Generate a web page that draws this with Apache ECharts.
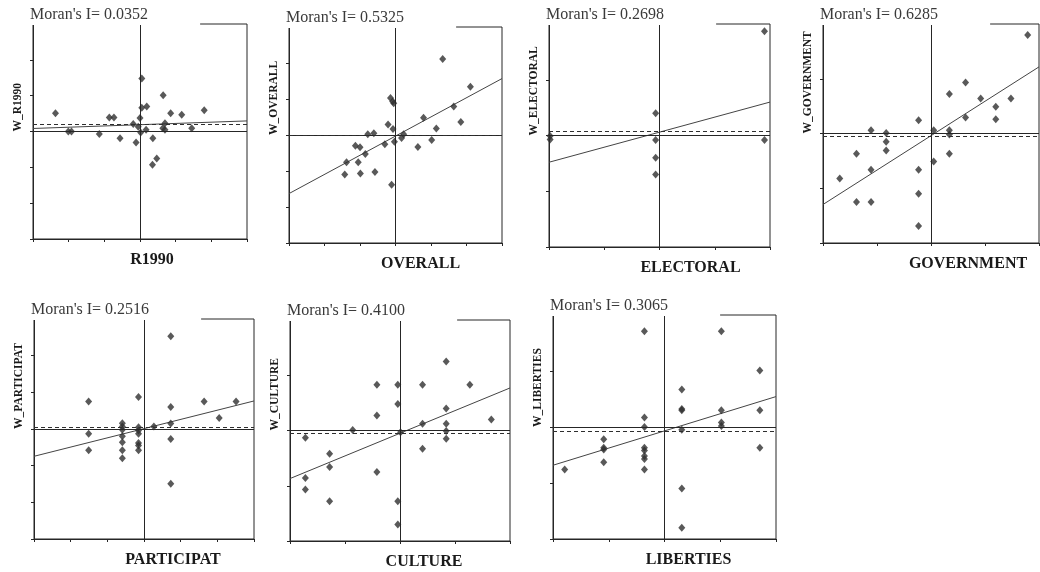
<!DOCTYPE html>
<html>
<head>
<meta charset="utf-8">
<script src="https://cdn.jsdelivr.net/npm/echarts@6/dist/echarts.min.js"></script>
<style>
  html, body { margin: 0; padding: 0; background: #ffffff; }
  #chart { width: 1040px; height: 572px; }
</style>
</head>
<body>
<div id="chart"></div>
<script>
// ---------- data (standardized values) ----------
const variables = ['R1990', 'OVERALL', 'ELECTORAL', 'GOVERNMENT', 'PARTICIPAT', 'CULTURE', 'LIBERTIES'];
const moranI = [0.0352, 0.5325, 0.2698, 0.6285, 0.2516, 0.4100, 0.3065];
const axisExtent = [3, 3, 2, 2, 3, 2, 2];
const fitIntercept = [0.19, -0.03, 0.06, -0.04, 0.01, -0.05, -0.07];
const dashedLevel = [0.2, -0.02, 0.08, -0.05, 0.045, -0.05, -0.08];

const r1990X = [-2.37, -2.01, -1.92, -1.14, -0.86, -0.73, -0.56, -0.19, -0.11, -0.05, 0, 0.02, 0.05, 0.05, 0.19, 0.17, 0.36, 0.47, 0.35, 0.65, 0.64, 0.70, 0.70, 0.86, 1.17, 1.45, 1.80];
const r1990Y = [0.51, 0, 0, -0.07, 0.39, 0.39, -0.19, 0.21, -0.31, 0.13, 0.38, -0.03, 1.48, 0.66, 0.70, 0.05, -0.19, -0.75, -0.93, 1.01, 0.09, 0.23, 0.05, 0.51, 0.47, 0.09, 0.59];

const overallX = [1.33, 2.11, 1.64, 1.84, 0.79, 1.15, 1.02, 0.63, 0.23, 0.17, -0.14, -0.08, -0.05, -0.21, -0.07, -0.03, -0.30, -0.61, -0.78, -1.13, -1.00, -0.85, -1.38, -1.05, -1.43, -0.99, -0.58, -0.11];
const overallY = [2.11, 1.34, 0.79, 0.36, 0.48, 0.18, -0.14, -0.33, 0.02, -0.08, 1.03, 0.93, 0.88, 0.29, 0.17, -0.19, -0.26, 0.05, 0.02, -0.30, -0.34, -0.53, -0.76, -0.76, -1.10, -1.07, -1.03, -1.38];

const electoralX = [-1.98, -1.98, -0.07, -0.07, -0.07, -0.07, 1.90, 1.90];
const electoralY = [-0.01, -0.07, 0.40, -0.08, -0.40, -0.70, 1.87, -0.08];

const governmentX = [1.79, 0.64, 0.34, 0.92, 1.48, 1.20, 0.64, 1.20, 0.34, 0.34, 0.05, 0.34, 0.05, -0.23, -0.23, -0.23, -0.23, -0.83, -0.83, -0.83, -1.11, -1.11, -1.11, -1.38, -1.38, -1.69];
const governmentY = [1.80, 0.93, 0.72, 0.64, 0.64, 0.49, 0.29, 0.26, 0.06, -0.02, 0.06, -0.37, -0.51, 0.24, -0.66, -1.10, -1.69, 0.01, -0.15, -0.31, 0.06, -0.66, -1.25, -0.37, -1.25, -0.82];

const participatX = [0.73, -1.51, -0.15, 0.73, 1.64, 2.51, 2.05, 0.73, 0.27, 0.73, 0.73, -1.51, -1.51, -0.59, -0.59, -0.59, -0.59, -0.59, -0.59, -0.59, -0.15, -0.15, -0.15, -0.15, -0.15, -0.15];
const participatY = [2.53, 0.75, 0.87, 0.60, 0.75, 0.75, 0.30, 0.15, 0.07, -0.27, -1.49, -0.13, -0.58, 0.16, 0.07, -0.02, -0.20, -0.36, -0.58, -0.80, 0.05, -0.04, -0.13, -0.38, -0.45, -0.58];

const cultureX = [0.84, -0.42, -0.04, 0.41, 1.27, -0.04, -0.42, 0.84, 0.41, 0.84, 1.66, 0.84, 0.84, 0.41, 0.01, -0.86, -1.72, -1.28, -1.28, -1.72, -1.72, -1.28, -0.42, -0.04, -0.04];
const cultureY = [1.25, 0.83, 0.83, 0.83, 0.83, 0.48, 0.27, 0.40, 0.12, 0.12, 0.20, -0.01, -0.15, -0.33, -0.03, 0.01, -0.13, -0.42, -0.66, -0.86, -1.07, -1.28, -0.75, -1.28, -1.70];

const libertiesX = [-0.36, 1.02, 1.71, 0.31, 0.31, 0.31, 1.02, 1.71, 1.02, 1.02, -0.36, -0.36, 0.31, 1.71, 0.31, 0.31, -1.09, -1.09, -1.09, -1.09, -1.79, -0.36, -0.36, -0.36, -0.36, -0.36];
const libertiesY = [1.71, 1.71, 1.01, 0.67, 0.32, 0.30, 0.30, 0.30, 0.08, 0.02, 0.17, 0, -0.05, -0.37, -1.10, -1.80, -0.22, -0.37, -0.40, -0.63, -0.76, -0.37, -0.42, -0.52, -0.57, -0.76];

const pointsX = [r1990X, overallX, electoralX, governmentX, participatX, cultureX, libertiesX];
const pointsY = [r1990Y, overallY, electoralY, governmentY, participatY, cultureY, libertiesY];

// ---------- layout (pixels) ----------
const layout = [
  { left: 33,  top: 24,  width: 214, height: 215, nameShift: 24 },
  { left: 289, top: 27,  width: 213, height: 216, nameShift: 50 },
  { left: 549, top: 24,  width: 221, height: 223, nameShift: 62 },
  { left: 823, top: 24,  width: 216, height: 219, nameShift: 74 },
  { left: 34,  top: 319, width: 220, height: 220, nameShift: 58 },
  { left: 290, top: 320, width: 220, height: 221, nameShift: 48 },
  { left: 553, top: 315, width: 223, height: 224, nameShift: 48 }
];

const INK = '#262626';
const SERIF = '"Liberation Serif", "Times New Roman", serif';

const grids = [], xAxes = [], yAxes = [], titles = [], series = [];

variables.forEach((name, i) => {
  const L = layout[i];
  const r = axisExtent[i];
  grids.push({
    left: L.left, top: L.top, width: L.width, height: L.height,
    show: true, borderColor: INK, borderWidth: 1, backgroundColor: 'transparent',
    containLabel: false, outerBoundsMode: 'none'
  });
  titles.push({
    text: "Moran's I= " + moranI[i].toFixed(4),
    left: L.left - 3, top: L.top - 17,
    padding: [0, 52, 2, 0],
    backgroundColor: '#ffffff',
    textStyle: { fontFamily: SERIF, fontSize: 16, fontWeight: 'normal', color: '#3a3a3a' }
  });
  xAxes.push({
    gridIndex: i, type: 'value', min: -r, max: r, interval: 1,
    axisLine: { show: true, onZero: false, lineStyle: { color: INK, width: 1 } },
    axisTick: { show: true, inside: false, length: 3, lineStyle: { color: INK } },
    axisLabel: { show: false }, splitLine: { show: false },
    name: name, nameLocation: 'middle', nameGap: 13,
    nameTextStyle: { fontFamily: SERIF, fontWeight: 'bold', fontSize: 16, color: '#1a1a1a',
      align: 'center', verticalAlign: 'top', padding: [0, 0, 0, L.nameShift] }
  });
  yAxes.push({
    gridIndex: i, type: 'value', min: -r, max: r, interval: 1,
    axisLine: { show: true, onZero: false, lineStyle: { color: INK, width: 1 } },
    axisTick: { show: true, inside: false, length: 3, lineStyle: { color: INK } },
    axisLabel: { show: false }, splitLine: { show: false },
    name: 'W_' + name, nameLocation: 'middle', nameGap: 15, nameRotate: 90,
    nameTextStyle: { fontFamily: SERIF, fontWeight: 'bold', fontSize: 11.5, color: '#1a1a1a',
      align: 'left', verticalAlign: 'middle' }
  });
  const pts = pointsX[i].map((x, k) => [x, pointsY[i][k]]);
  const a = fitIntercept[i], b = moranI[i];
  series.push({
    type: 'line', xAxisIndex: i, yAxisIndex: i,
    data: [[-r, a - b * r], [r, a + b * r]],
    symbol: 'none', silent: true, z: 2,
    lineStyle: { color: '#444444', width: 1 },
    markLine: {
      silent: true, symbol: 'none', label: { show: false },
      lineStyle: { color: INK, width: 1, type: 'solid' },
      data: [
        { xAxis: 0 },
        { yAxis: 0 },
        { yAxis: dashedLevel[i], lineStyle: { type: [4, 3], color: '#2e2e2e', width: 1 } }
      ]
    }
  });
  series.push({
    type: 'scatter', xAxisIndex: i, yAxisIndex: i,
    data: pts, symbol: 'diamond', symbolSize: [7, 8], z: 3,
    itemStyle: { color: '#2f2f2f' }
  });
});

const chart = echarts.init(document.getElementById('chart'), null, { renderer: 'canvas' });
chart.setOption({
  backgroundColor: '#ffffff',
  animation: false,
  title: titles,
  grid: grids,
  xAxis: xAxes,
  yAxis: yAxes,
  series: series
});
</script>
</body>
</html>
